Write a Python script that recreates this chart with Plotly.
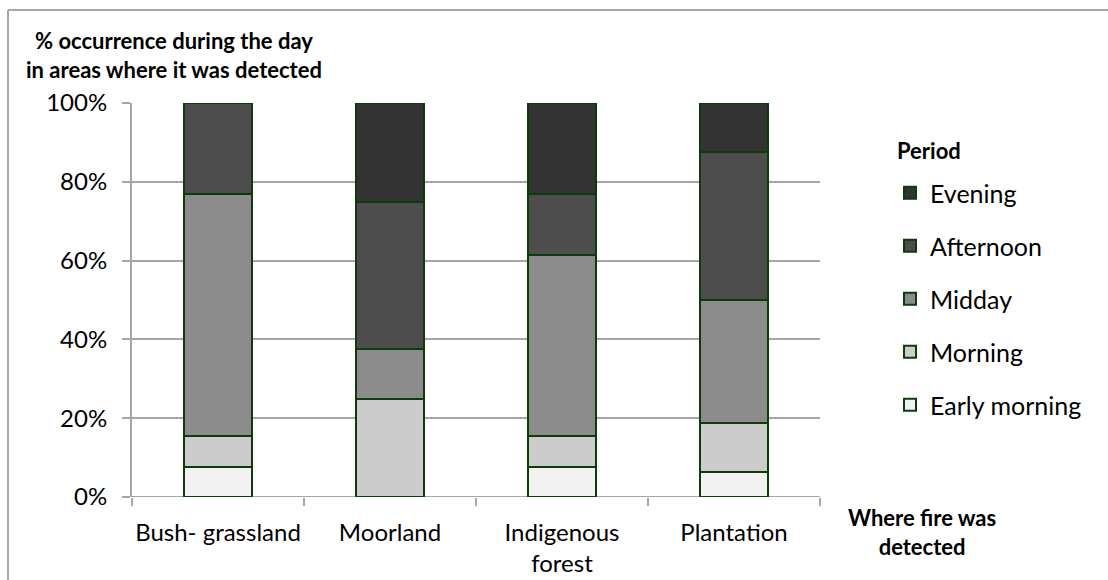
import plotly.graph_objects as go

# Land-cover categories where fire was detected
categories = ["Bush- grassland", "Moorland", "Indigenous<br>forest", "Plantation"]

# Share (%) of fire detections in each period of the day
early_morning = [7.69, 0.0, 7.69, 6.25]
morning = [7.69, 25.0, 7.69, 12.5]
midday = [61.54, 12.5, 46.15, 31.25]
afternoon = [23.08, 37.5, 15.38, 37.5]
evening = [0.0, 25.0, 23.08, 12.5]

series = [
    ("Early morning", early_morning, "#f2f2f2"),
    ("Morning", morning, "#cccccc"),
    ("Midday", midday, "#8c8c8c"),
    ("Afternoon", afternoon, "#4d4d4d"),
    ("Evening", evening, "#333333"),
]

y_ticks = [0, 20, 40, 60, 80, 100]
y_tick_labels = ["0%", "20%", "40%", "60%", "80%", "100%"]

FONT = "Lato"
EDGE = "#0b3d0b"
GREY = "#a6a6a6"

# plot-area box in pixels, used to place the free-standing text
L, R, T, B = 132, 820, 103, 497
W, H = R - L, B - T


def px(x):
    return (x - L) / W


def py(y):
    return (B - y) / H


fig = go.Figure()
for i, (name, vals, color) in enumerate(series):
    fig.add_trace(go.Bar(
        name=name, x=categories, y=vals, legendgroup=name,
        legendrank=len(series) - i,
        marker=dict(color=color, line=dict(color=EDGE, width=2)),
    ))

fig.update_layout(
    width=1108, height=580,
    margin=dict(l=L, r=1108 - R, t=T, b=580 - B, autoexpand=False),
    barmode="stack", bargap=0.6,
    plot_bgcolor="white", paper_bgcolor="white",
    font=dict(family=FONT, size=24, color="#000000"),
    showlegend=True,
    legend=dict(
        traceorder="grouped", tracegroupgap=17.5,
        x=px(890), xanchor="left", y=py(170), yanchor="top",
        font=dict(size=25), bgcolor="rgba(0,0,0,0)",
    ),
    xaxis=dict(
        showline=False, ticks="outside", tickson="boundaries",
        ticklen=8, tickcolor=GREY, tickwidth=2, tickangle=0, automargin=False,
        tickfont=dict(size=24), showgrid=False, ticklabelstandoff=19,
    ),
    yaxis=dict(
        range=[0, 100], tickvals=y_ticks, ticktext=y_tick_labels, automargin=False,
        showgrid=True, gridcolor=GREY, gridwidth=2,
        showline=True, linecolor=GREY, linewidth=2,
        ticks="outside", ticklen=8, tickcolor=GREY, tickwidth=2,
        tickfont=dict(size=24), zeroline=False, ticklabelstandoff=10,
    ),
    shapes=[
        # chart frame (left and top edges)
        dict(type="line", xref="paper", yref="paper", x0=px(8), x1=px(8), y0=py(590), y1=py(10),
             line=dict(color=GREY, width=2)),
        dict(type="line", xref="paper", yref="paper", x0=px(8), x1=px(1120), y0=py(10), y1=py(10),
             line=dict(color=GREY, width=2)),
        # baseline at 0%
        dict(type="line", xref="paper", yref="y", x0=0, x1=1, y0=0, y1=0,
             line=dict(color=GREY, width=2), layer="below"),
    ],
    annotations=[
        dict(text="<b>% occurrence during the day<br>in areas where it was detected</b>",
             xref="paper", yref="paper", x=px(174), y=py(55),
             xanchor="center", yanchor="middle",
             showarrow=False, align="center", font=dict(size=22)),
        dict(text="<b>Where fire was<br>detected</b>",
             xref="paper", yref="paper", x=px(922), y=py(532),
             xanchor="center", yanchor="middle",
             showarrow=False, align="center", font=dict(size=22)),
        dict(text="<b>Period</b>",
             xref="paper", yref="paper", x=px(895), y=py(150),
             xanchor="left", yanchor="middle",
             showarrow=False, align="left", font=dict(size=22)),
    ],
)

fig.write_html("out.html")
